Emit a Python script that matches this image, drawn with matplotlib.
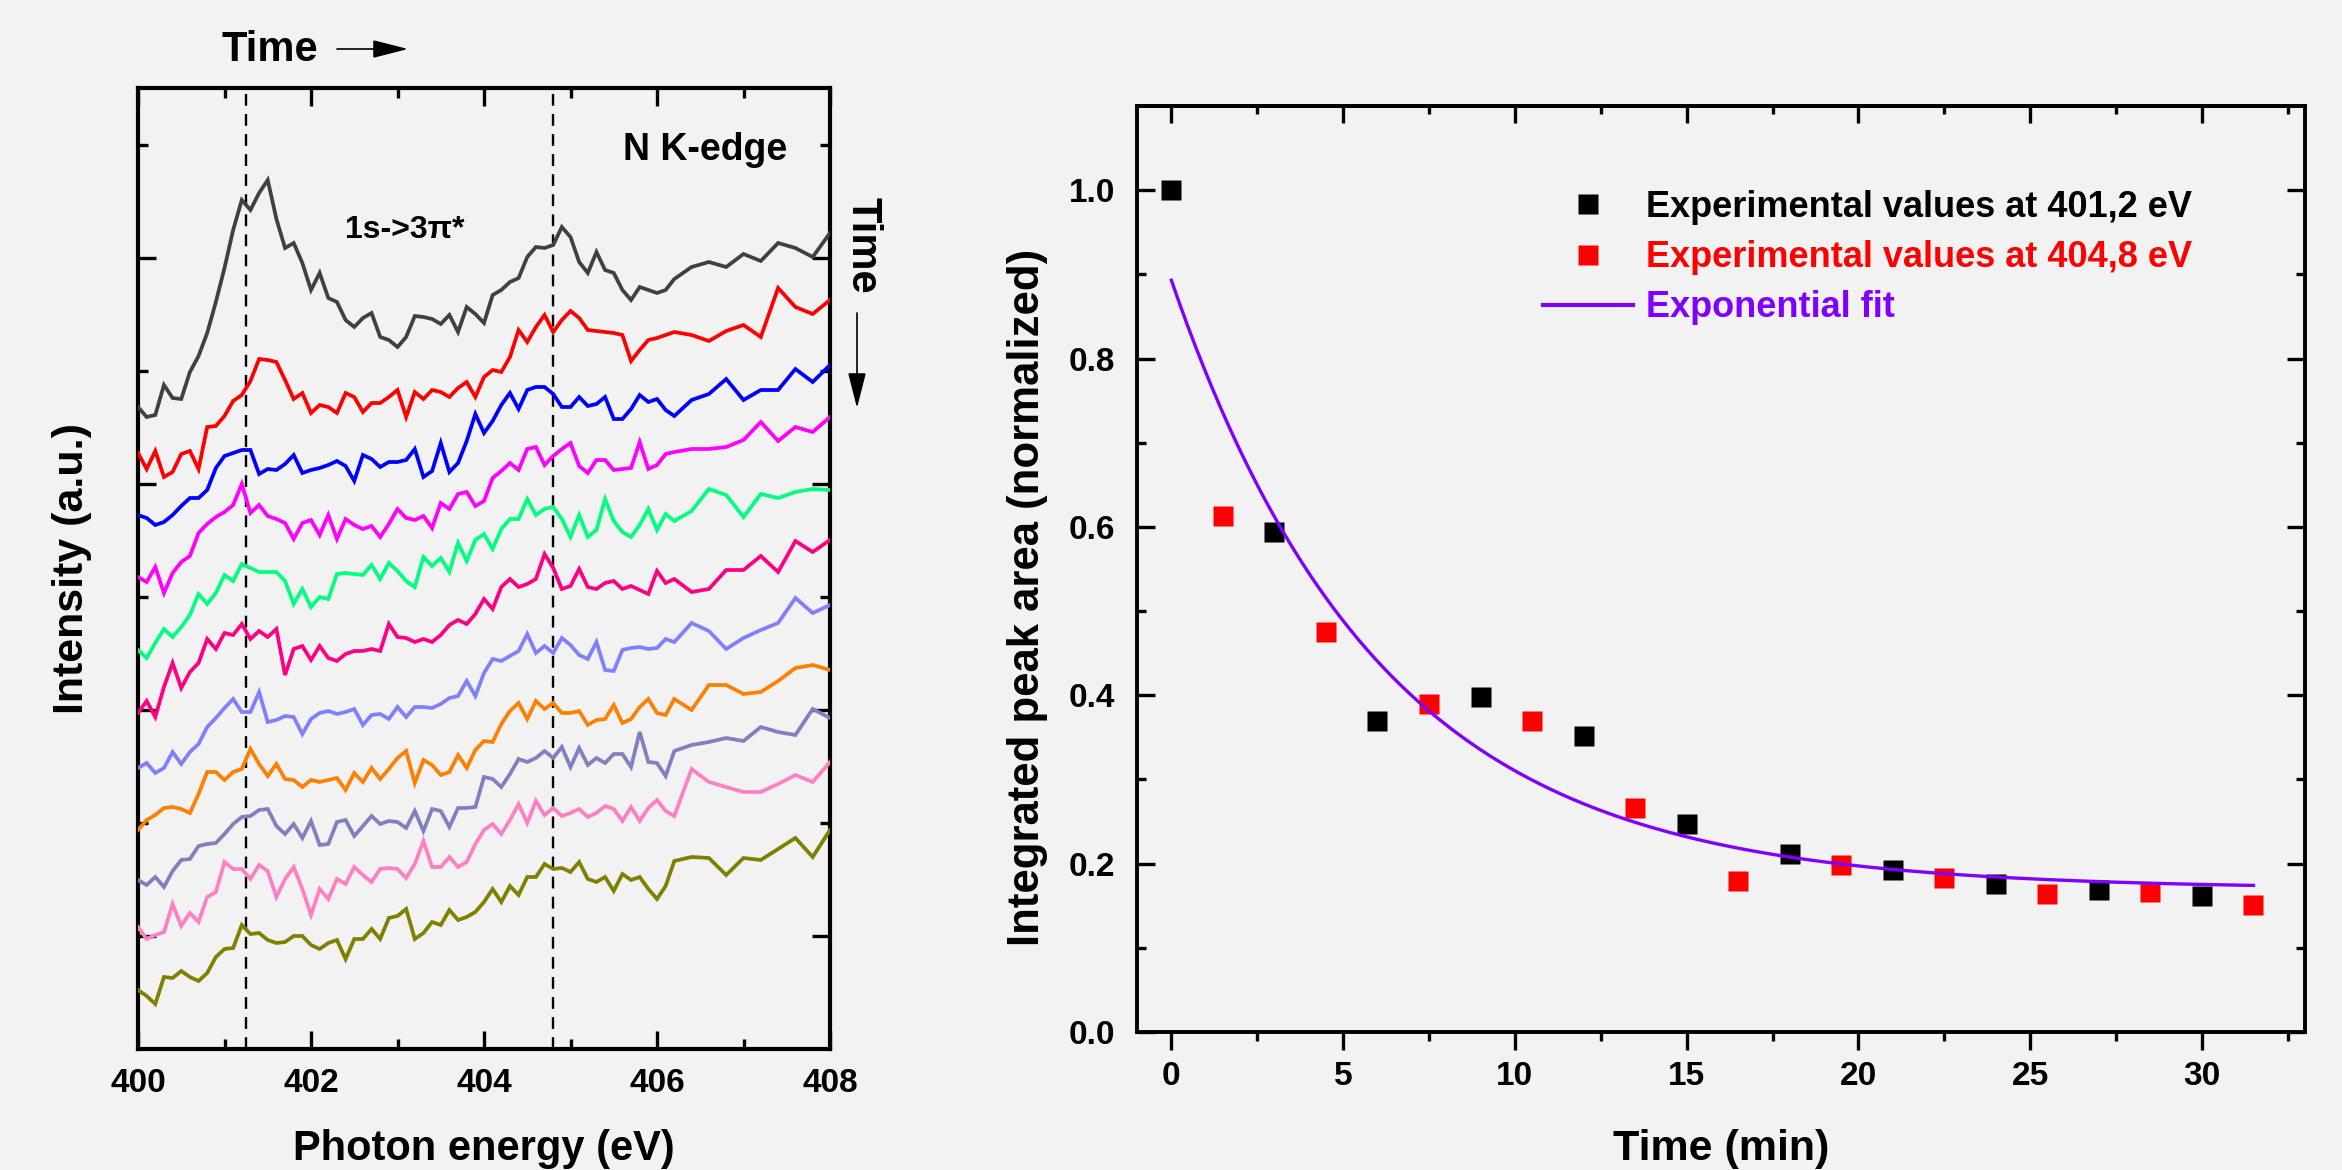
import matplotlib
matplotlib.use("Agg")
import matplotlib.pyplot as plt
import numpy as np
from matplotlib.ticker import FixedLocator, MultipleLocator, FormatStrFormatter
from matplotlib.lines import Line2D

# ---------------- data: left panel (N K-edge spectra, offset, a.u.) ----------------
energy = [400.0, 400.1, 400.2, 400.3, 400.4, 400.5, 400.6, 400.7, 400.8, 400.9,
          401.0, 401.1, 401.2, 401.3, 401.4, 401.5, 401.6, 401.7, 401.8, 401.9,
          402.0, 402.1, 402.2, 402.3, 402.4, 402.5, 402.6, 402.7, 402.8, 402.9,
          403.0, 403.1, 403.2, 403.3, 403.4, 403.5, 403.6, 403.7, 403.8, 403.9,
          404.0, 404.1, 404.2, 404.3, 404.4, 404.5, 404.6, 404.7, 404.8, 404.9,
          405.0, 405.1, 405.2, 405.3, 405.4, 405.5, 405.6, 405.7, 405.8, 405.9,
          406.0, 406.1, 406.2,
          406.4, 406.6, 406.8, 407.0, 407.2, 407.4, 407.6, 407.8, 408.0]

spec_gray = [642, 632, 634, 664, 651, 650, 677, 693, 716, 747,
             781, 819, 849, 839, 856, 869, 830, 801, 806, 786,
             759, 776, 751, 747, 729, 722, 731, 736, 712, 709,
             702, 712, 733, 732, 730, 725, 734, 717, 742, 735,
             726, 754, 759, 767, 771, 792, 802, 801, 804, 822,
             812, 787, 776, 797, 779, 776, 759, 749, 762, 759,
             756, 759, 770,
             782, 787, 782, 795, 788, 806, 801, 792, 816]
spec_red = [596, 580, 598, 572, 577, 595, 598, 580, 622, 623,
            633, 648, 654, 668, 690, 689, 687, 669, 650, 656,
            636, 644, 642, 636, 656, 652, 637, 646, 646, 652,
            659, 632, 657, 650, 659, 657, 652, 661, 667, 652,
            672, 679, 677, 692, 719, 707, 722, 734, 717, 729,
            738, 731, 719, 718, 717, 716, 714, 688, 699, 709,
            711, 714, 717,
            714, 708, 718, 724, 712, 761, 742, 735, 749]
spec_blue = [534, 531, 524, 527, 534, 543, 551, 551, 559, 581,
             593, 596, 599, 599, 575, 580, 579, 585, 594, 576,
             579, 581, 584, 588, 583, 568, 594, 590, 582, 587,
             587, 589, 600, 572, 578, 606, 577, 586, 608, 635,
             616, 628, 644, 656, 640, 659, 662, 662, 655, 642,
             642, 652, 643, 645, 652, 630, 630, 640, 654, 647,
             650, 639, 633,
             649, 655, 670, 649, 659, 659, 680, 667, 684]
spec_magenta = [472, 467, 482, 456, 476, 487, 493, 516, 525, 532,
                537, 544, 565, 536, 544, 533, 530, 526, 510, 526,
                529, 514, 534, 510, 530, 524, 520, 523, 512, 525,
                540, 531, 529, 533, 521, 546, 540, 555, 557, 543,
                548, 571, 578, 586, 579, 600, 602, 584, 593, 600,
                606, 583, 576, 589, 589, 579, 580, 581, 607, 580,
                584, 595, 597,
                600, 600, 602, 609, 627, 608, 622, 617, 632]
spec_green = [399, 391, 406, 420, 412, 422, 434, 455, 445, 456,
              474, 468, 485, 481, 477, 477, 477, 468, 445, 460,
              442, 452, 450, 475, 476, 475, 474, 484, 470, 486,
              478, 468, 462, 492, 483, 491, 477, 506, 488, 509,
              515, 500, 520, 530, 530, 550, 534, 540, 542, 530,
              512, 534, 512, 519, 550, 528, 517, 512, 524, 540,
              519, 535, 528,
              538, 560, 554, 532, 555, 551, 557, 560, 559]
spec_crimson = [336, 348, 332, 362, 386, 361, 377, 386, 410, 400,
                416, 414, 425, 410, 418, 412, 420, 374, 400, 403,
                389, 403, 391, 388, 395, 398, 398, 400, 398, 425,
                412, 411, 407, 410, 407, 414, 424, 429, 425, 435,
                450, 440, 462, 470, 462, 465, 470, 495, 481, 460,
                463, 480, 462, 460, 466, 468, 460, 463, 459, 455,
                478, 466, 470,
                457, 460, 479, 479, 493, 477, 508, 497, 509]
spec_periwinkle = [281, 286, 276, 281, 297, 285, 297, 305, 322, 331,
                   341, 350, 337, 337, 357, 327, 329, 333, 332, 315,
                   330, 336, 338, 335, 337, 340, 324, 334, 335, 330,
                   342, 332, 342, 342, 341, 345, 351, 353, 368, 353,
                   376, 390, 388, 393, 398, 415, 396, 403, 396, 411,
                   404, 394, 390, 407, 379, 378, 399, 401, 402, 400,
                   401, 410, 407,
                   426, 418, 400, 411, 419, 426, 451, 436, 444]
spec_orange = [219, 229, 234, 241, 242, 240, 236, 255, 277, 277,
               269, 277, 280, 300, 285, 273, 285, 270, 269, 262,
               269, 267, 269, 271, 259, 276, 267, 281, 270, 280,
               291, 298, 266, 289, 284, 274, 277, 294, 281, 299,
               308, 307, 325, 338, 346, 330, 348, 340, 346, 336,
               336, 338, 324, 329, 330, 344, 326, 330, 342, 350,
               336, 334, 350,
               339, 364, 364, 355, 357, 368, 381, 384, 379]
spec_slate = [169, 164, 172, 162, 178, 189, 190, 203, 205, 206,
              215, 225, 232, 233, 239, 240, 223, 215, 225, 211,
              228, 204, 205, 227, 229, 213, 223, 233, 225, 228,
              227, 221, 238, 218, 240, 238, 222, 241, 241, 242,
              272, 270, 262, 275, 290, 287, 291, 298, 291, 302,
              282, 301, 284, 291, 286, 295, 295, 282, 317, 287,
              286, 273, 298,
              304, 307, 311, 308, 322, 317, 314, 340, 331]
spec_pink = [122, 110, 114, 117, 145, 123, 136, 127, 152, 157,
             187, 180, 180, 170, 184, 178, 152, 170, 182, 160,
             134, 160, 150, 170, 165, 182, 174, 167, 180, 181,
             180, 171, 185, 208, 182, 182, 192, 182, 187, 205,
             219, 225, 215, 229, 245, 226, 248, 234, 241, 233,
             236, 240, 232, 236, 243, 240, 228, 242, 228, 241,
             249, 238, 233,
             280, 267, 262, 257, 257, 265, 274, 267, 287]
spec_olive = [59, 53, 45, 72, 71, 78, 72, 68, 76, 92,
              100, 101, 124, 115, 116, 109, 106, 107, 113, 113,
              104, 100, 106, 109, 90, 110, 110, 120, 110, 131,
              133, 140, 110, 116, 127, 124, 139, 129, 132, 137,
              147, 160, 147, 163, 154, 172, 172, 185, 180, 181,
              177, 187, 170, 167, 172, 158, 175, 169, 172, 160,
              150, 163, 188,
              192, 191, 174, 191, 189, 200, 211, 192, 219]

spectra = [spec_gray, spec_red, spec_blue, spec_magenta, spec_green, spec_crimson,
           spec_periwinkle, spec_orange, spec_slate, spec_pink, spec_olive]
spec_colors = ["#404040", "#FF0000", "#0000FF", "#FF00FF", "#00FF80", "#FF0080",
               "#8080FF", "#FF8000", "#8080C0", "#FF80C0", "#808000"]
marker_energies = [401.25, 404.8]

# ---------------- data: right panel ----------------
t_401 = [0, 3, 6, 9, 12, 15, 18, 21, 24, 27, 30]
area_401 = [1.000, 0.594, 0.370, 0.398, 0.352, 0.247, 0.212, 0.192, 0.176, 0.169, 0.161]
t_404 = [1.5, 4.5, 7.5, 10.5, 13.5, 16.5, 19.5, 22.5, 25.5, 28.5, 31.5]
area_404 = [0.613, 0.475, 0.390, 0.369, 0.266, 0.179, 0.198, 0.183, 0.164, 0.166, 0.151]
# exponential fit parameters: y = y0 + A*exp(-t/tau)
fit_y0, fit_A, fit_tau = 0.170, 0.723, 6.1
fit_tmax = 31.5

legend_labels = ["Experimental values at 401,2 eV",
                 "Experimental values at 404,8 eV",
                 "Exponential fit"]

# ---------------- figure ----------------
W, H = 2342, 1170
BG = "#f2f2f2"
FONT = "Liberation Sans"
plt.rcParams["font.family"] = [FONT, "DejaVu Sans"]
plt.rcParams["font.weight"] = "bold"

fig = plt.figure(figsize=(W / 100, H / 100), dpi=100, facecolor=BG)


def fx(x):
    return x / W


def fy(y):
    return 1 - y / H


# ---------- left panel ----------
ax1 = fig.add_axes([fx(138), fy(1049), (830 - 138) / W, (1049 - 88) / H], facecolor=BG)
for s, c in zip(spectra, spec_colors):
    ax1.plot(energy, s, color=c, lw=2.7, zorder=3, solid_joinstyle="miter")
for e in marker_energies:
    ax1.axvline(e, color="black", lw=1.7, dashes=(5, 3.5), zorder=2)

ax1.set_xlim(400, 408)
ax1.set_ylim(0, 961)
ax1.xaxis.set_major_locator(FixedLocator([400, 402, 404, 406, 408]))
ax1.xaxis.set_minor_locator(FixedLocator([401, 403, 405, 407]))
ax1.yaxis.set_major_locator(FixedLocator([113, 339, 565, 791]))
ax1.yaxis.set_minor_locator(FixedLocator([226, 452, 678, 904]))
ax1.tick_params(which="both", direction="in", top=True, right=True,
                labelleft=False, width=2.4, labelsize=24, pad=14)
ax1.tick_params(which="major", length=13)
ax1.tick_params(which="minor", length=7)
for sp in ax1.spines.values():
    sp.set_linewidth(3.0)

# ---------- right panel ----------
ax2 = fig.add_axes([fx(1137), fy(1032), (2305 - 1137) / W, (1032 - 106) / H], facecolor=BG)
ax2.plot(t_401, area_401, linestyle="none", marker="s", ms=14.5, color="black",
         mec="none", zorder=3)
ax2.plot(t_404, area_404, linestyle="none", marker="s", ms=14.5, color="#FF0000",
         mec="none", zorder=3)
t_fit = np.linspace(0, fit_tmax, 400)
ax2.plot(t_fit, fit_y0 + fit_A * np.exp(-t_fit / fit_tau), color="#8000FF", lw=2.4, zorder=4)

ax2.set_xlim(-1, 33)
ax2.set_ylim(0, 1.1)
ax2.xaxis.set_major_locator(MultipleLocator(5))
ax2.xaxis.set_minor_locator(MultipleLocator(2.5))
ax2.yaxis.set_major_locator(FixedLocator([0.0, 0.2, 0.4, 0.6, 0.8, 1.0]))
ax2.yaxis.set_minor_locator(FixedLocator([0.1, 0.3, 0.5, 0.7, 0.9]))
ax2.yaxis.set_major_formatter(FormatStrFormatter("%.1f"))
ax2.tick_params(axis="x", which="both", direction="out", top=False, width=2.4,
                labelsize=24, pad=8)
ax2.tick_params(axis="y", which="both", direction="in", right=True, width=2.4,
                labelsize=24, pad=16)
ax2.tick_params(which="major", length=13)
ax2.tick_params(which="minor", length=6.5)
sec = ax2.secondary_xaxis("top")
sec.xaxis.set_major_locator(MultipleLocator(5))
sec.xaxis.set_minor_locator(MultipleLocator(2.5))
sec.tick_params(which="both", direction="in", labeltop=False, width=2.4)
sec.tick_params(which="major", length=12)
sec.tick_params(which="minor", length=6)
sec.spines["top"].set_linewidth(2.8)
for sp in ax2.spines.values():
    sp.set_linewidth(2.8)

handles = [Line2D([], [], linestyle="none", marker="s", ms=14.5, color="black", mec="none"),
           Line2D([], [], linestyle="none", marker="s", ms=14.5, color="#FF0000", mec="none"),
           Line2D([], [], color="#8000FF", lw=3)]
ax2.legend(handles, legend_labels, loc="upper left", bbox_to_anchor=(fx(1543), fy(190)),
           bbox_transform=fig.transFigure, frameon=False,
           prop={"family": FONT, "weight": "bold", "size": 26},
           handlelength=2.5, handletextpad=0.36, labelspacing=0.42,
           borderpad=0, borderaxespad=0,
           labelcolor=["black", "#FF0000", "#8000FF"])

# ---------- texts ----------
fig.text(fx(484), fy(1160), "Photon energy (eV)", ha="center", va="baseline", fontsize=30)
fig.text(fx(72), fy(568), "Intensity (a.u.)", ha="center", va="center",
         rotation=90, fontsize=31)
fig.text(fx(1721), fy(1160), "Time (min)", ha="center", va="baseline", fontsize=31)
fig.text(fx(1027), fy(597), "Integrated peak area (normalized)", ha="center",
         va="center", rotation=90, fontsize=31.5)

fig.text(fx(270), fy(50), "Time", ha="center", va="center", fontsize=30)
fig.text(fx(863), fy(245), "Time", ha="center", va="center", rotation=270, fontsize=30)
fig.text(fx(705), fy(150), "N K-edge", ha="center", va="center", fontsize=27)
fig.text(fx(405), fy(230), "1s->3\u03c0*", ha="center", va="center", fontsize=23)

arrow_kw = dict(arrowstyle="-|>,head_length=1.1,head_width=0.28", color="black",
                lw=1.2, mutation_scale=20, shrinkA=0, shrinkB=0)
fig.add_artist(matplotlib.patches.FancyArrowPatch((fx(337), fy(49)), (fx(408), fy(49)),
                                                  transform=fig.transFigure, **arrow_kw))
fig.add_artist(matplotlib.patches.FancyArrowPatch((fx(857), fy(313)), (fx(857), fy(408)),
                                                  transform=fig.transFigure, **arrow_kw))

fig.savefig("out.png", dpi=100, facecolor=BG)
